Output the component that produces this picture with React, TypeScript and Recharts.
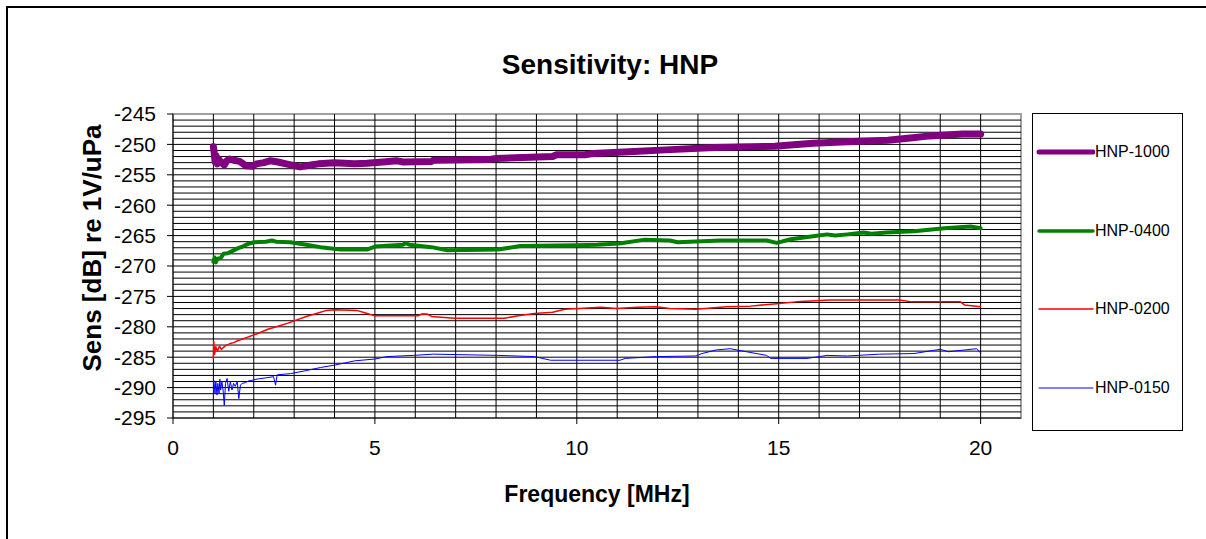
import { LineChart, Line, XAxis, YAxis, ReferenceLine, ReferenceArea, Label } from "recharts";

const FONT = "'Liberation Sans', Arial, sans-serif";

const freqTicks = [0, 5, 10, 15, 20];
const sensTicks = [-295, -290, -285, -280, -275, -270, -265, -260, -255, -250, -245];
// minor grid: every 1 MHz / every 1 dB
const gridFreq = Array.from({ length: 20 }, (_, i) => i + 1);
const gridSens = Array.from({ length: 49 }, (_, i) => -294 + i);

// [frequency MHz, sensitivity dB]
const hnp1000 = [
  [1.0, -250.4], [1.02, -251.3], [1.04, -252.8], [1.07, -251.9], [1.1, -253.2], [1.14, -252.5],
  [1.2, -253.0], [1.27, -253.4], [1.33, -252.7], [1.4, -252.4], [1.5, -252.6], [1.65, -252.8],
  [1.8, -253.5], [1.95, -253.6], [2.07, -253.2], [2.25, -253.0], [2.4, -252.7], [2.6, -252.9],
  [2.8, -253.2], [3.15, -253.7], [3.4, -253.4], [3.6, -253.2], [4.0, -253.0], [4.5, -253.2],
  [4.8, -253.1], [5.2, -252.9], [5.55, -252.7], [5.7, -252.9], [6.4, -252.8], [6.45, -252.6],
  [7.8, -252.5], [8.0, -252.3], [9.4, -252.0], [9.5, -251.7], [10.2, -251.7], [10.4, -251.5],
  [11.3, -251.2], [12.2, -250.9], [13.4, -250.5], [14.9, -250.3], [15.85, -249.8], [17.0, -249.5],
  [17.7, -249.3], [18.2, -249.0], [18.75, -248.6], [19.55, -248.3], [20.0, -248.3],
];

const hnp0400 = [
  [1.0, -269.3], [1.03, -268.6], [1.06, -269.4], [1.1, -268.8], [1.18, -268.7], [1.25, -268.0],
  [1.35, -267.9], [1.45, -267.6], [1.6, -267.1], [1.72, -266.8], [1.85, -266.4], [2.0, -266.1],
  [2.3, -266.0], [2.45, -265.8], [2.55, -266.0], [2.9, -266.1], [3.3, -266.5], [3.65, -266.9],
  [4.15, -267.3], [4.8, -267.3], [5.0, -266.8], [5.7, -266.5], [5.75, -266.2], [5.85, -266.5],
  [6.4, -266.9], [6.8, -267.4], [8.05, -267.3], [8.6, -266.7], [10.0, -266.6], [10.5, -266.5],
  [11.05, -266.3], [11.65, -265.7], [12.3, -265.8], [12.5, -266.1], [13.55, -265.8], [14.7, -265.8],
  [14.95, -266.2], [15.3, -265.6], [15.85, -265.1], [16.2, -264.8], [16.4, -265.0], [16.7, -264.8],
  [17.1, -264.5], [17.3, -264.7], [17.67, -264.5], [18.35, -264.3], [19.1, -263.8], [19.75, -263.5],
  [20.0, -263.8],
];

const hnp0200 = [
  [1.0, -285.2], [1.01, -282.4], [1.03, -284.5], [1.06, -283.3], [1.1, -284.0], [1.15, -283.2],
  [1.2, -283.7], [1.3, -283.1], [1.4, -282.8], [1.5, -282.6], [1.6, -282.3], [1.85, -281.7],
  [2.1, -281.1], [2.35, -280.4], [2.6, -279.9], [2.85, -279.4], [3.05, -278.9], [3.3, -278.3],
  [3.55, -277.8], [3.8, -277.3], [4.0, -277.2], [4.55, -277.3], [4.75, -277.7], [5.0, -278.2],
  [6.07, -278.2], [6.15, -277.9], [6.3, -277.9], [6.4, -278.3], [6.97, -278.6], [8.2, -278.6],
  [8.55, -278.2], [8.95, -277.8], [9.4, -277.6], [9.7, -277.1], [10.6, -276.8], [10.98, -277.0],
  [11.5, -276.8], [11.97, -276.7], [12.3, -277.0], [12.95, -277.1], [13.7, -276.7], [14.3, -276.6],
  [14.95, -276.2], [15.43, -275.9], [16.26, -275.6], [17.99, -275.6], [18.3, -275.9], [19.5, -275.9],
  [19.6, -276.4], [20.0, -276.7],
];

const hnp0150 = [
  [1.0, -292.4], [1.01, -288.8], [1.04, -291.0], [1.06, -289.0], [1.09, -291.2], [1.11, -289.3],
  [1.14, -290.9], [1.16, -288.6], [1.18, -290.4], [1.21, -289.0], [1.24, -290.4], [1.27, -292.9],
  [1.3, -289.3], [1.34, -288.5], [1.38, -290.6], [1.42, -289.0], [1.46, -290.4], [1.5, -289.3],
  [1.54, -289.8], [1.59, -289.0], [1.63, -291.8], [1.67, -289.6], [1.71, -289.3], [1.79, -289.2],
  [1.87, -288.9], [1.96, -288.8], [2.08, -288.6], [2.3, -288.4], [2.49, -288.2], [2.54, -289.6],
  [2.58, -287.9], [2.91, -287.7], [3.3, -287.2], [3.65, -286.7], [4.0, -286.3], [4.5, -285.6],
  [5.0, -285.3], [5.3, -284.9], [5.95, -284.7], [6.45, -284.5], [8.05, -284.7], [8.95, -284.9],
  [9.35, -285.5], [10.3, -285.5], [11.07, -285.5], [11.2, -285.2], [11.97, -284.9], [12.95, -284.8],
  [13.1, -284.4], [13.46, -283.8], [13.8, -283.6], [14.2, -284.1], [14.7, -284.7], [14.8, -285.2],
  [15.7, -285.2], [16.2, -284.7], [16.7, -284.8], [17.5, -284.5], [18.35, -284.4], [19.0, -283.7],
  [19.2, -284.1], [19.9, -283.6], [20.0, -284.3],
];

const series = [
  { name: "HNP-1000", color: "#800080", width: 7, legendWidth: 5, points: hnp1000 },
  { name: "HNP-0400", color: "#008000", width: 4, legendWidth: 3.5, points: hnp0400 },
  { name: "HNP-0200", color: "#ff0000", width: 1.5, legendWidth: 1.5, points: hnp0200 },
  { name: "HNP-0150", color: "#0000ff", width: 1, legendWidth: 1, points: hnp0150 },
];

const toRows = (pts: number[][]) => pts.map(([f, s]) => ({ f, s }));

function YTitle({ viewBox }: any) {
  const cx = viewBox.x + 101;
  const cy = viewBox.y + viewBox.height / 2 - 18;
  return (
    <text x={cx} y={cy} transform={`rotate(-90, ${cx}, ${cy})`} textAnchor="middle"
      fontFamily={FONT} fontSize={26} fontWeight="bold" fill="#000">
      Sens [dB] re 1V/uPa
    </text>
  );
}

function XTitle({ viewBox }: any) {
  return (
    <text x={viewBox.x + viewBox.width / 2} y={viewBox.y + 84} textAnchor="middle"
      fontFamily={FONT} fontSize={23} fontWeight="bold" fill="#000">
      Frequency [MHz]
    </text>
  );
}

export default function App() {
  return (
    <div style={{ position: "fixed", left: 0, top: 0, width: 1206, height: 539, overflow: "hidden", background: "#fff", fontFamily: FONT }}>
      <div style={{ position: "absolute", left: 6, top: 6, width: 1300, height: 700, border: "2px solid #000" }} />
      <div style={{ position: "absolute", left: 0, width: 1220, top: 51, textAlign: "center", fontSize: 28, lineHeight: "28px", fontWeight: "bold" }}>
        Sensitivity: HNP
      </div>
      <div style={{ position: "absolute", left: 0, top: 0 }}>
        <LineChart width={1206} height={539} margin={{ top: 114, right: 185, left: 0, bottom: 0 }}>
          {gridSens.map((v) => (
            <ReferenceLine key={`gy${v}`} y={v} stroke="#000" strokeWidth={1} />
          ))}
          {gridFreq.map((v) => (
            <ReferenceLine key={`gx${v}`} x={v} stroke="#000" strokeWidth={1} />
          ))}
          <ReferenceArea x1={0} x2={21} y1={-295} y2={-245} fill="none" stroke="#a0a0a0" strokeWidth={2} />
          <XAxis
            type="number"
            dataKey="f"
            domain={[0, 21]}
            ticks={freqTicks}
            interval={0}
            height={121}
            tickSize={6}
            tickMargin={16}
            axisLine={{ stroke: "#000" }}
            tickLine={{ stroke: "#000" }}
            tick={{ fill: "#000", fontSize: 21, fontFamily: FONT }}
            allowDataOverflow
          >
            <Label content={XTitle} />
          </XAxis>
          <YAxis
            type="number"
            domain={[-295, -245]}
            ticks={sensTicks}
            interval={0}
            width={173}
            tickSize={6}
            tickMargin={11}
            axisLine={{ stroke: "#000" }}
            tickLine={{ stroke: "#000" }}
            tick={{ fill: "#000", fontSize: 21, fontFamily: FONT }}
            allowDataOverflow
          >
            <Label content={YTitle} />
          </YAxis>
          {series.map((s) => (
            <Line
              key={s.name}
              data={toRows(s.points)}
              dataKey="s"
              name={s.name}
              type="linear"
              stroke={s.color}
              strokeWidth={s.width}
              strokeLinejoin="round"
              strokeLinecap="round"
              dot={false}
              activeDot={false}
              isAnimationActive={false}
            />
          ))}
        </LineChart>
      </div>
      <div style={{ position: "absolute", left: 1032, top: 113, width: 151, height: 318, border: "1px solid #000", boxSizing: "border-box", background: "#fff" }}>
        {series.map((s, i) => (
          <div key={s.name} style={{ position: "absolute", left: 2, top: 38 + i * 78.6 - 10, height: 20, display: "flex", alignItems: "center", fontSize: 16, whiteSpace: "nowrap" }}>
            <svg width={60} height={12}>
              <line x1={4} x2={58} y1={6} y2={6} stroke={s.color} strokeWidth={s.legendWidth} strokeLinecap="round" />
            </svg>
            <span>{s.name}</span>
          </div>
        ))}
      </div>
    </div>
  );
}
